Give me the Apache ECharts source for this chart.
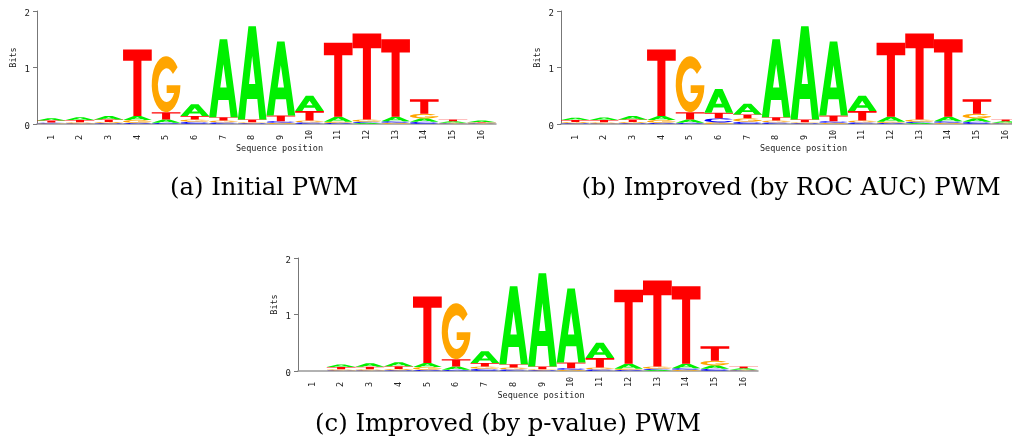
<!DOCTYPE html>
<html>
<head>
<meta charset="utf-8">
<script src="https://cdn.jsdelivr.net/npm/echarts@6/dist/echarts.min.js"></script>
<style>
  html, body { margin: 0; padding: 0; background: #fff; }
  #main { width: 1012px; height: 445px; }
</style>
</head>
<body>
<div id="main"></div>
<script>
// sequence positions
const positions = ['1','2','3','4','5','6','7','8','9','10','11','12','13','14','15','16'];
const letters = ['A', 'C', 'G', 'T'];

// (a) initial PWM, bits per letter
const A_a = [0.04, 0.05, 0.06, 0.07, 0.06, 0.21, 1.38, 1.65, 1.31, 0.27, 0.09, 0.02, 0.08, 0.06, 0.03, 0.03];
const C_a = [0.015, 0.01, 0.015, 0.02, 0.02, 0.04, 0.03, 0.015, 0.03, 0.03, 0.02, 0.02, 0.03, 0.04, 0.01, 0.01];
const G_a = [0.01, 0.02, 0.02, 0.05, 0.99, 0.04, 0.03, 0.015, 0.02, 0.03, 0.02, 0.04, 0.02, 0.08, 0.01, 0.01];
const T_a = [0.035, 0.04, 0.045, 1.18, 0.13, 0.06, 0.06, 0.05, 0.1, 0.17, 1.31, 1.52, 1.37, 0.26, 0.03, 0.01];

// (b) improved by ROC AUC
const A_b = [0.04, 0.045, 0.06, 0.07, 0.06, 0.42, 0.19, 1.38, 1.65, 1.31, 0.27, 0.09, 0.02, 0.08, 0.06, 0.03];
const C_b = [0.015, 0.01, 0.015, 0.02, 0.02, 0.07, 0.04, 0.03, 0.015, 0.03, 0.03, 0.02, 0.02, 0.03, 0.04, 0.01];
const G_b = [0.02, 0.02, 0.02, 0.05, 0.99, 0.03, 0.06, 0.03, 0.015, 0.02, 0.03, 0.02, 0.04, 0.02, 0.08, 0.01];
const T_b = [0.035, 0.04, 0.045, 1.18, 0.13, 0.1, 0.07, 0.06, 0.05, 0.1, 0.17, 1.31, 1.52, 1.37, 0.26, 0.03];

// (c) improved by p-value
const A_c = [0, 0.045, 0.06, 0.07, 0.07, 0.06, 0.21, 1.38, 1.65, 1.31, 0.27, 0.09, 0.02, 0.08, 0.06, 0.03];
const C_c = [0, 0.01, 0.01, 0.015, 0.02, 0.02, 0.04, 0.03, 0.015, 0.03, 0.03, 0.02, 0.02, 0.03, 0.04, 0.01];
const G_c = [0, 0.02, 0.02, 0.02, 0.05, 0.99, 0.04, 0.03, 0.015, 0.02, 0.03, 0.02, 0.04, 0.02, 0.08, 0.01];
const T_c = [0, 0.04, 0.045, 0.05, 1.18, 0.13, 0.06, 0.06, 0.05, 0.1, 0.17, 1.31, 1.52, 1.37, 0.26, 0.03];

const captions = ['(a) Initial PWM', '(b) Improved (by ROC AUC) PWM', '(c) Improved (by p-value) PWM'];

const colors = { A: '#00f000', C: '#0000ff', G: '#ffa500', T: '#ff0000' };

// letter outlines in a 100x100 box, stretched to each cell
const glyphs = {
  T: 'M0,0 L100,0 L100,17 L64,17 L64,100 L36,100 L36,17 L0,17 Z',
  A: 'M0,100 L37,0 L63,0 L100,100 L75,100 L68,78 L32,78 L25,100 Z M50,32 L39,62 L61,62 Z',
  C: 'M90,20 A50,50 0 1 0 90,80 L74,68 A30,30 0 1 1 74,32 Z',
  G: 'M90,20 A50,50 0 1 0 100,52 L52,52 L52,66 L78,66 A30,30 0 1 1 74,32 Z'
};

function stackData(cols) {
  const out = [];
  positions.forEach((p, i) => {
    const cell = letters.map((l, k) => ({ k: k, v: cols[k][i] })).filter(d => d.v > 0);
    cell.sort((a, b) => a.v - b.v);
    let base = 0;
    cell.forEach(d => {
      out.push([i, base, base + d.v, d.k]);
      base += d.v;
    });
  });
  return out;
}

function renderLetter(params, api) {
  const i = api.value(0);
  const p0 = api.coord([i, api.value(1)]);
  const p1 = api.coord([i, api.value(2)]);
  const bw = api.size([1, 0])[0];
  const h = p0[1] - p1[1];
  if (h < 0.3) return null;
  const l = letters[api.value(3)];
  return {
    type: 'path',
    shape: {
      pathData: glyphs[l],
      x: p0[0] - bw / 2,
      y: p1[1],
      width: bw,
      height: h,
      layout: 'cover'
    },
    style: { fill: colors[l] }
  };
}

const panels = [
  { cols: [A_a, C_a, G_a, T_a], left: 37, top: 11, width: 459 },
  { cols: [A_b, C_b, G_b, T_b], left: 561, top: 11, width: 459 },
  { cols: [A_c, C_c, G_c, T_c], left: 298, top: 258, width: 460 }
];

const mono = '"DejaVu Sans Mono", monospace';
const capFont = '24.3px "DejaVu Serif"';

const chart = echarts.init(document.getElementById('main'));
chart.setOption({
  animation: false,
  backgroundColor: '#fff',
  grid: panels.map(p => ({
    left: p.left, top: p.top, width: p.width, height: 113,
    containLabel: false, outerBoundsMode: 'none'
  })),
  xAxis: panels.map((p, i) => ({
    type: 'category',
    gridIndex: i,
    data: positions,
    axisLine: { lineStyle: { color: '#999', width: 1.5 } },
    axisTick: { show: false },
    axisLabel: {
      interval: 0, rotate: 90, align: 'left', verticalAlign: 'middle',
      margin: 16, fontFamily: mono, fontSize: 8.5, color: '#222'
    },
    name: 'Sequence position',
    nameLocation: 'middle',
    nameGap: 18,
    nameTextStyle: { fontFamily: mono, fontSize: 8.5, color: '#222', padding: [0, 0, 0, 26] }
  })),
  yAxis: panels.map((p, i) => ({
    type: 'value',
    gridIndex: i,
    min: 0, max: 2, interval: 1,
    splitLine: { show: false },
    axisLine: { show: true, lineStyle: { color: '#777' } },
    axisTick: { show: true, length: 4, lineStyle: { color: '#777' } },
    axisLabel: { margin: 7, fontFamily: mono, fontSize: 9, color: '#222', verticalAlign: 'top', lineHeight: 5 },
    name: 'Bits',
    nameLocation: 'middle',
    nameRotate: 90,
    nameGap: 19,
    nameTextStyle: { fontFamily: mono, fontSize: 8.5, color: '#222', padding: [0, 0, 0, 20] }
  })),
  series: panels.map((p, i) => ({
    type: 'custom',
    xAxisIndex: i,
    yAxisIndex: i,
    silent: true,
    renderItem: renderLetter,
    encode: { x: 0, y: [1, 2] },
    data: stackData(p.cols)
  })),
  graphic: [
    { type: 'text', x: 264, y: 189, style: { text: captions[0], font: capFont, fill: '#000', textAlign: 'center', textVerticalAlign: 'middle' } },
    { type: 'text', x: 791, y: 189, style: { text: captions[1], font: capFont, fill: '#000', textAlign: 'center', textVerticalAlign: 'middle' } },
    { type: 'text', x: 508, y: 425, style: { text: captions[2], font: capFont, fill: '#000', textAlign: 'center', textVerticalAlign: 'middle' } }
  ]
});
</script>
</body>
</html>
